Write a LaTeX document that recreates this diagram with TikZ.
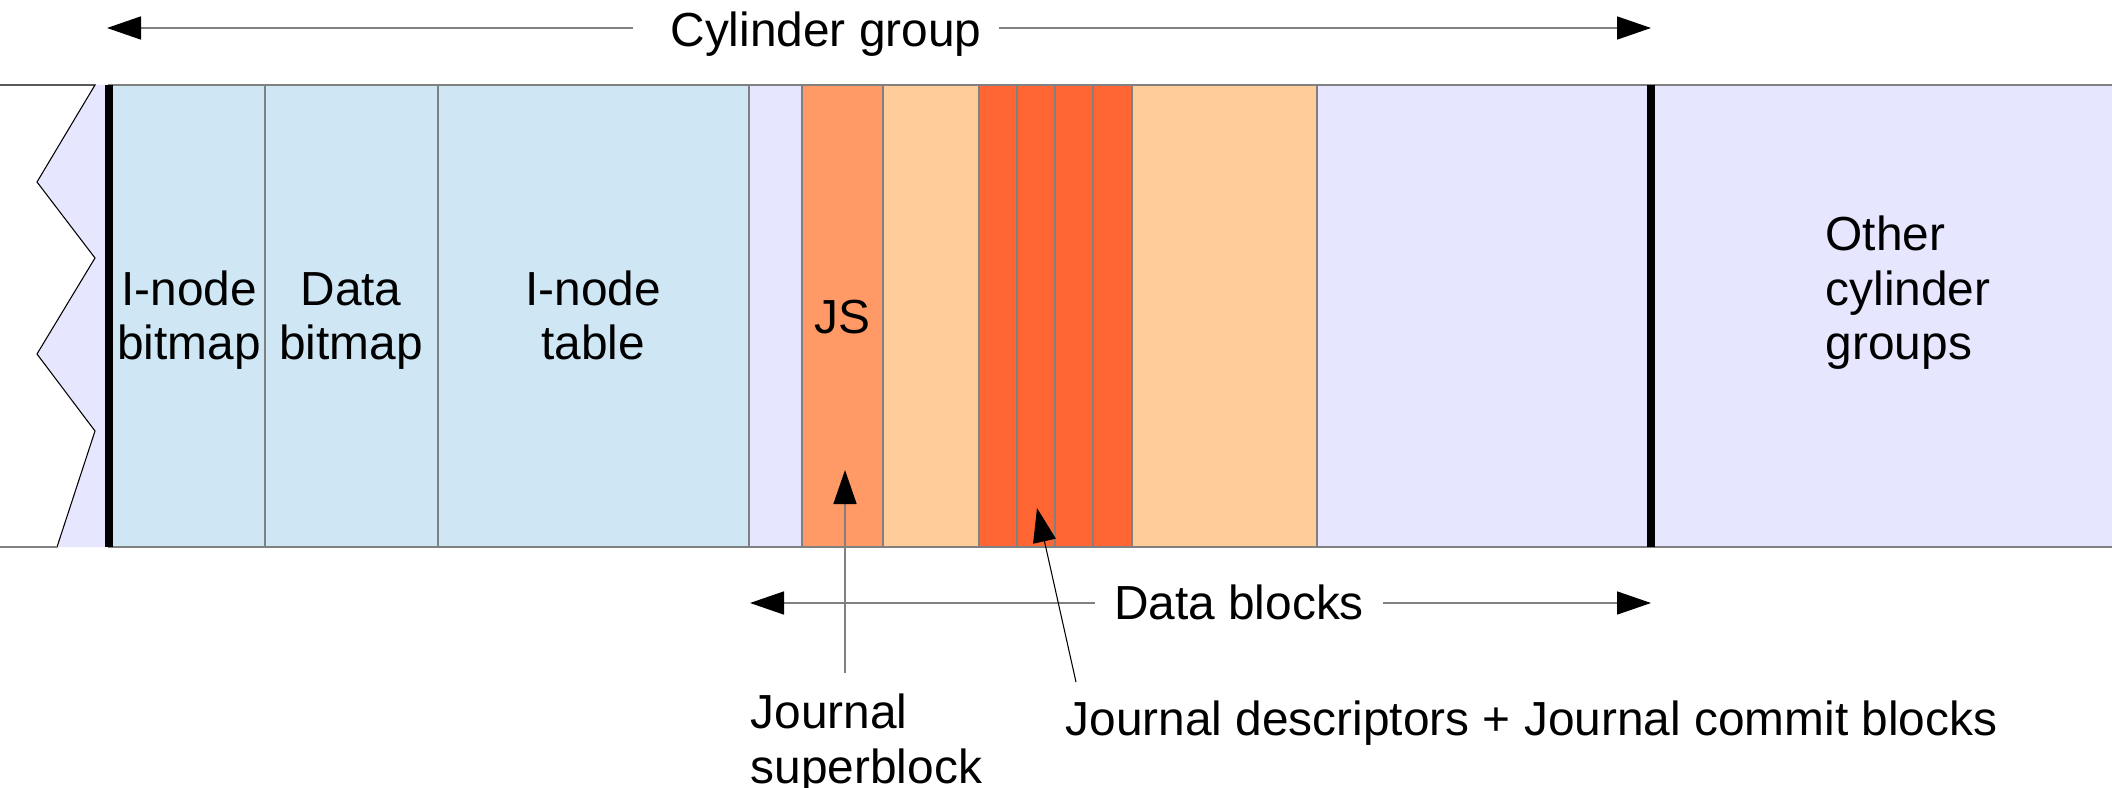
\documentclass[tikz,border=0pt]{standalone}
\usepackage{fontspec}
\setmainfont{Liberation Sans}
\usetikzlibrary{arrows.meta}

\definecolor{paleblue}{HTML}{CFE7F5}
\definecolor{lavender}{HTML}{E6E6FF}
\definecolor{jsorange}{HTML}{FF9966}
\definecolor{lightorange}{HTML}{FFCC99}
\definecolor{darkorange}{HTML}{FF6633}
\definecolor{rulegray}{HTML}{808080}

\begin{document}
\begin{tikzpicture}[x=0.01cm, y=-0.01cm,
  block/.style={draw=rulegray, line width=0.3pt},
  sep/.style={fill=black},
  txt/.style={font=\fontsize{13.6pt}{15.5pt}\selectfont, inner sep=0pt},
  dim/.style={draw=rulegray, line width=0.45pt, -{Triangle[length=0.34cm,width=0.23cm,color=black]}},
  pointer/.style={draw=black, line width=0.3pt, -{Triangle[length=0.34cm,width=0.23cm,color=black]}}
]
\useasboundingbox (0,0) rectangle (2112,788);

% --- disk strip -------------------------------------------------------
% torn left edge
\fill[lavender] (95,85) -- (37,182) -- (95,258) -- (37,354) -- (95,431)
  -- (57,547) -- (109,547) -- (109,85) -- cycle;
\draw[black, line width=0.3pt] (0,85) -- (95,85) -- (37,182) -- (95,258)
  -- (37,354) -- (95,431) -- (57,547) -- (0,547);

% metadata area
\filldraw[block, fill=paleblue] (109,85) rectangle (265,547);
\filldraw[block, fill=paleblue] (265,85) rectangle (438,547);
\filldraw[block, fill=paleblue] (438,85) rectangle (749,547);
\filldraw[block, fill=lavender] (749,85) rectangle (802,547);

% journal and data blocks
\filldraw[block, fill=jsorange]    (802,85) rectangle (883,547);
\filldraw[block, fill=lightorange] (883,85) rectangle (979,547);
\filldraw[block, fill=darkorange]  (979,85) rectangle (1017,547);
\filldraw[block, fill=darkorange]  (1017,85) rectangle (1055,547);
\filldraw[block, fill=darkorange]  (1055,85) rectangle (1093,547);
\filldraw[block, fill=darkorange]  (1093,85) rectangle (1132,547);
\filldraw[block, fill=lightorange] (1132,85) rectangle (1317,547);
\filldraw[block, fill=lavender]    (1317,85) rectangle (2112,547);
\draw[rulegray, line width=0.3pt] (0,547) -- (57,547);

% cylinder group boundaries
\fill[sep] (105,85) rectangle (113,547);
\fill[sep] (1647,85) rectangle (1655,547);

% --- labels inside the strip (base = last line) -------------------------
\node[txt, align=center, anchor=base] (ib) at (189,360) {I-node\\bitmap};
\node[txt, align=center, anchor=base] (db) at (351,360) {Data\\bitmap};
\node[txt, align=center, anchor=base] (it) at (593,360) {I-node\\table};
\node[txt, anchor=base] (js) at (842,333) {JS};
\node[txt, align=left, anchor=base west] (ocg) at (1825,360) {Other\\cylinder\\groups};

% --- cylinder group extent --------------------------------------------
\node[txt, anchor=base] (cg) at (826,47) {Cylinder group};
\coordinate (cgL) at (633,28);
\coordinate (cgLtip) at (107,28);
\coordinate (cgR) at (999,28);
\coordinate (cgRtip) at (1651,28);
\draw[dim] (cgL) -- (cgLtip);
\draw[dim] (cgR) -- (cgRtip);

% --- data block extent ------------------------------------------------
\node[txt, anchor=base] (dbl) at (1239,619) {Data blocks};
\coordinate (dbL) at (1095,603);
\coordinate (dbLtip) at (750,603);
\coordinate (dbR) at (1383,603);
\coordinate (dbRtip) at (1651,603);
\draw[dim] (dbL) -- (dbLtip);
\draw[dim] (dbR) -- (dbRtip);

% --- callouts ---------------------------------------------------------
\node[txt, align=left, anchor=base west] (jsb) at (750,783) {Journal\\superblock};
\node[txt, anchor=base west] (jdc) at (1065,735) {Journal descriptors + Journal commit blocks};
\coordinate (jsfoot) at (845,673);
\coordinate (jstip) at (845,470);
\draw[dim] (jsfoot) -- (jstip);
\coordinate (jdfoot) at (1076,682);
\coordinate (jdtip) at (1037,508);
\draw[pointer] (jdfoot) -- (jdtip);
\end{tikzpicture}
\end{document}
